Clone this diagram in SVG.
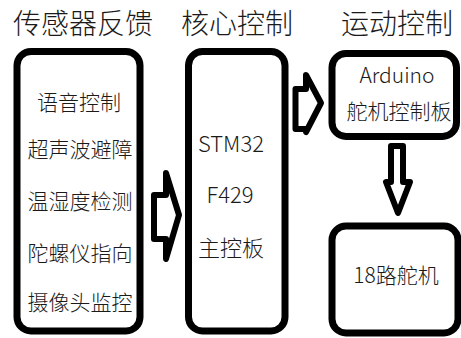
<svg xmlns="http://www.w3.org/2000/svg" width="461" height="338" viewBox="0 0 461 338">
<style>
.box{fill:#fff;stroke:#000;stroke-width:7}
.arr{fill:#fff;stroke:#000;stroke-width:6;stroke-linejoin:round}
text{font-family:"Noto Sans CJK SC","Microsoft YaHei",sans-serif;fill:#1a1a1a;text-anchor:middle;font-weight:300}
.title{font-size:28px}
.t{font-size:21px}
.m{font-size:22px}
</style>
<rect width="461" height="338" fill="#fff"/>
<text class="title" x="83" y="34">传感器反馈</text>
<text class="title" x="237" y="34">核心控制</text>
<text class="title" x="397" y="34">运动控制</text>
<g id="sensors">
<rect class="box" x="17" y="51.5" width="123" height="279.5" rx="14"/>
<text class="t" x="79" y="110">语音控制</text>
<text class="t" x="80" y="157">超声波避障</text>
<text class="t" x="80" y="209">温湿度检测</text>
<text class="t" x="80" y="261">陀螺仪指向</text>
<text class="t" x="80" y="310">摄像头监控</text>
</g>
<g id="core">
<rect class="box" x="188.5" y="51.5" width="96.5" height="279.5" rx="14"/>
<text class="m" x="231" y="152">STM32</text>
<text class="m" x="230" y="203">F429</text>
<text class="m" x="231" y="256">主控板</text>
</g>
<g id="arduino">
<rect class="box" x="332" y="53.5" width="124.5" height="83" rx="14"/>
<text class="t" x="397" y="83">Arduino</text>
<text class="t" x="399" y="119">舵机控制板</text>
</g>
<g id="servos">
<rect class="box" x="332" y="226" width="126" height="107" rx="14"/>
<text class="t" x="396" y="283">18路舵机</text>
</g>
<g id="connectors">
<path class="arr" d="M154,195 L166,195 L166,173 L179,215 L166,259 L166,239 L154,239 Z"/>
<path class="arr" d="M295.5,89 L306,89 L306,75 L321,103 L306,132 L306,129 L295.5,129 Z"/>
<path class="arr" d="M391,146 L403,146 L403,182 L410,182 L398,213 L386,182 L391,182 Z"/>
</g>
</svg>
